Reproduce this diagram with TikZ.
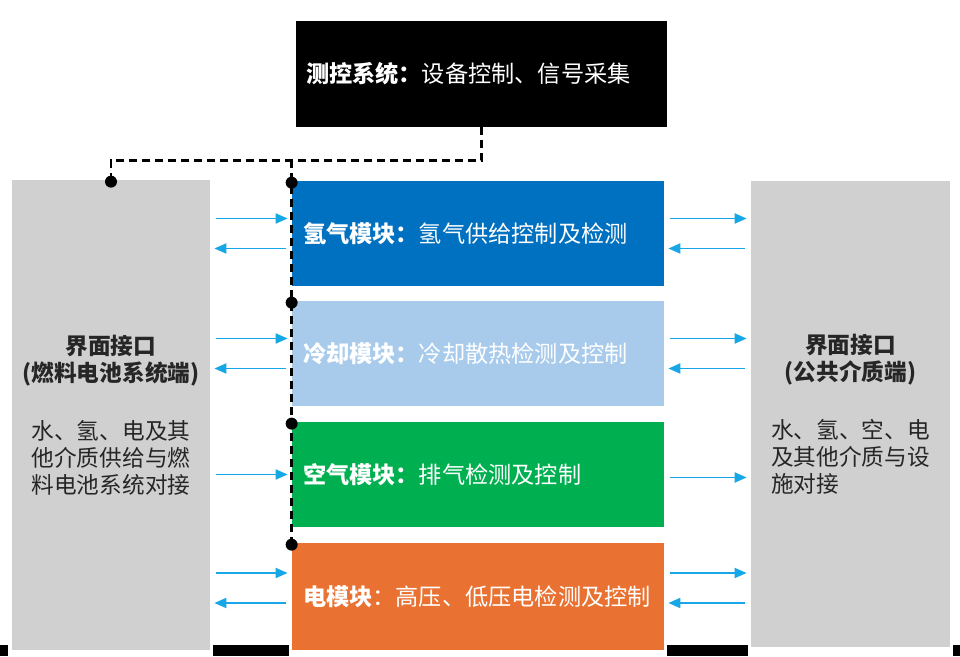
\documentclass[tikz,border=0pt]{standalone}
\usepackage{fontspec}
\setmainfont{Noto Sans CJK SC}
\usetikzlibrary{arrows.meta,calc}

\definecolor{hblue}{HTML}{0070C0}
\definecolor{coolblue}{HTML}{A8CBEC}
\definecolor{airgreen}{HTML}{00B050}
\definecolor{elecorange}{HTML}{E97232}
\definecolor{panelgray}{HTML}{D0D0D0}
\definecolor{flowcyan}{HTML}{18A7E6}

\begin{document}
\begin{tikzpicture}[
    module/.style={minimum width=7.44cm, minimum height=2.1cm, inner xsep=0.22cm, text width=7.0cm, align=left, text=white, font=\fontsize{13.2}{15.8}\selectfont},
    panel/.style={fill=panelgray, minimum width=3.96cm, align=center, text=black!85, font=\fontsize{12.9}{15.4}\selectfont},
    flow/.style={-{Triangle[length=0.24cm,width=0.2cm]}, flowcyan, line width=1.1pt, shorten <=0.12cm, shorten >=0.08cm},
    bus/.style={dash pattern=on 0.16cm off 0.1cm, line width=1.6pt}
]
\useasboundingbox (0,0) rectangle (19.2,13.12);

% strip along the bottom edge
\fill[black] (0,0) rectangle (19.2,0.22);
\fill[white] (0.16,0) rectangle (4.26,0.22);
\fill[white] (5.78,0) rectangle (13.34,0.22);
\fill[white] (14.96,0) rectangle (19.06,0.22);

\node[fill=black, minimum width=7.42cm, minimum height=2.12cm, inner xsep=0.2cm, text width=7.02cm, align=left, text=white, font=\fontsize{13.2}{15.8}\selectfont] at (9.63,11.64) (ctrl) {\textbf{测控系统：}设备控制、信号采集};

\node[module, fill=hblue] at (9.56,8.45) (h2) {\textbf{氢气模块：}氢气供给控制及检测};
\node[module, fill=coolblue] at (9.56,6.05) (cool) {\textbf{冷却模块：}冷却散热检测及控制};
\node[module, fill=airgreen] at (9.56,3.63) (air) {\textbf{空气模块：}排气检测及控制};
\node[module, fill=elecorange, minimum height=2.14cm] at (9.56,1.19) (elec) {\textbf{电模块}：高压、低压电检测及控制};

\node[panel, minimum height=9.4cm] at (2.22,4.82) (fcs) {\textbf{界面接口}\\\textbf{(燃料电池系统端)}\\[0.62cm]水、氢、电及其\\他介质供给与燃\\料电池系统对接};
\node[panel, minimum width=3.98cm, minimum height=9.32cm] at (17.01,4.84) (pub) {\textbf{界面接口}\\\textbf{(公共介质端)}\\[0.62cm]水、氢、空、电\\及其他介质与设\\\makebox[7em][l]{施对接}};

% control bus
\coordinate (split) at ($(ctrl.south)+(0,-0.66)$);
\draw[bus] (ctrl.south) -- (split) -| (fcs.north);
\draw[bus] (split -| h2.north west) -- (elec.north west);
\fill ([yshift=-0.04cm]fcs.north) circle (0.12);
\fill ([yshift=-0.04cm]h2.north west) circle (0.12);
\fill ([yshift=-0.04cm]cool.north west) circle (0.12);
\fill ([yshift=-0.04cm]air.north west) circle (0.12);
\fill ([yshift=-0.04cm]elec.north west) circle (0.12);

% fuel cell side
\draw[flow] ([yshift=0.3cm]fcs.east |- h2.west) -- ([yshift=0.3cm]h2.west);
\draw[flow] ([yshift=-0.3cm]h2.west) -- ([yshift=-0.3cm]fcs.east |- h2.west);
\draw[flow] ([yshift=0.3cm]fcs.east |- cool.west) -- ([yshift=0.3cm]cool.west);
\draw[flow] ([yshift=-0.3cm]cool.west) -- ([yshift=-0.3cm]fcs.east |- cool.west);
\draw[flow] (fcs.east |- air.west) -- (air.west);
\draw[flow] ([yshift=0.47cm]fcs.east |- elec.west) -- ([yshift=0.47cm]elec.west);
\draw[flow] ([yshift=-0.13cm]elec.west) -- ([yshift=-0.13cm]fcs.east |- elec.west);

% public side
\draw[flow] ([yshift=0.3cm]h2.east) -- ([yshift=0.3cm]pub.west |- h2.east);
\draw[flow] ([yshift=-0.3cm]pub.west |- h2.east) -- ([yshift=-0.3cm]h2.east);
\draw[flow] ([yshift=0.3cm]cool.east) -- ([yshift=0.3cm]pub.west |- cool.east);
\draw[flow] ([yshift=-0.3cm]pub.west |- cool.east) -- ([yshift=-0.3cm]cool.east);
\draw[flow] ([yshift=-0.06cm]air.east) -- ([yshift=-0.06cm]pub.west |- air.east);
\draw[flow] ([yshift=0.47cm]elec.east) -- ([yshift=0.47cm]pub.west |- elec.east);
\draw[flow] ([yshift=-0.13cm]pub.west |- elec.east) -- ([yshift=-0.13cm]elec.east);
\end{tikzpicture}
\end{document}
